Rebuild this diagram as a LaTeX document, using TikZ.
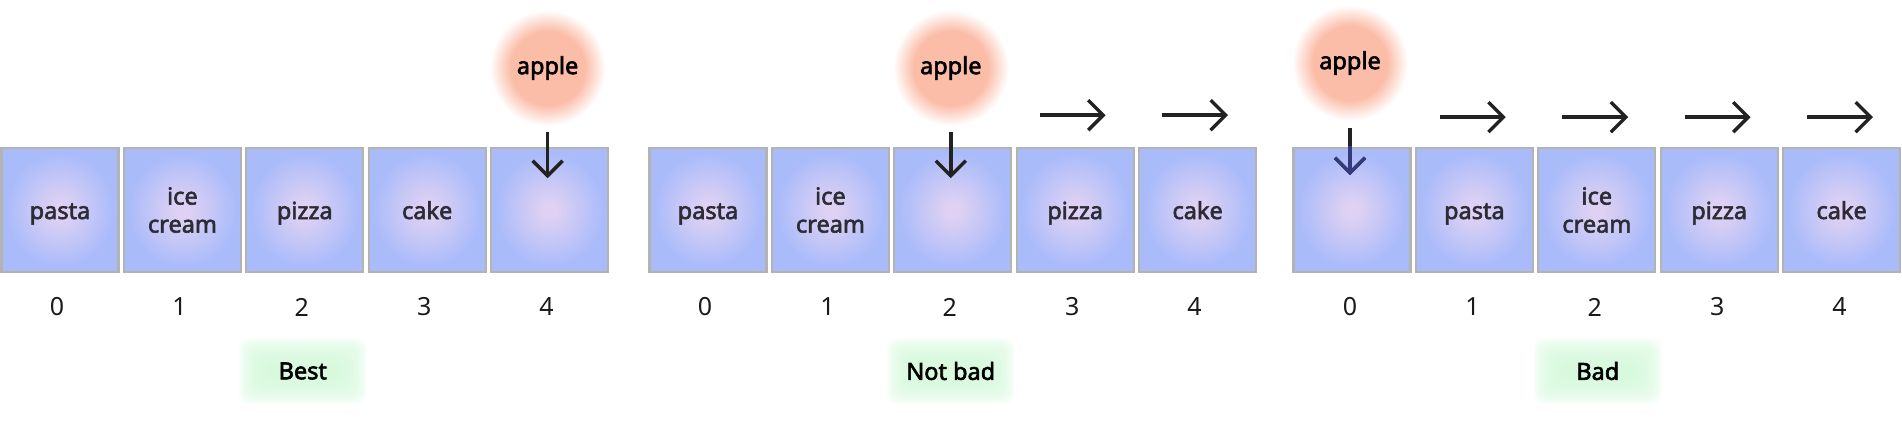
\documentclass[tikz,border=0pt]{standalone}
\usepackage{fontspec}
\usetikzlibrary{arrows.meta,backgrounds,calc}
\setmainfont{Noto Sans}
\newfontfamily\semifont{Noto Sans}[FakeBold=2.5]
\definecolor{lav}{HTML}{DED1F3}
\definecolor{peri}{HTML}{AABBFA}
\definecolor{bordergray}{HTML}{B3B3B3}
\definecolor{applec}{HTML}{FBBDA8}
\definecolor{greenc}{HTML}{D6F9DC}
\definecolor{txtdark}{HTML}{2C2C36}
\definecolor{numc}{HTML}{1A1A1A}
\definecolor{arrowc}{HTML}{222222}
\definecolor{navyc}{HTML}{343A7C}
\pgfdeclareradialshading{cellshade}{\pgfpoint{0bp}{0bp}}{color(0bp)=(lav); color(3bp)=(lav); color(23bp)=(peri); color(50bp)=(peri)}
\pgfdeclareradialshading{appleshade}{\pgfpoint{0bp}{0bp}}{color(0bp)=(applec); color(16bp)=(applec); color(25bp)=(white); color(50bp)=(white)}
\begin{document}
\begin{tikzpicture}[x=1pt,y=-1pt,
  cell/.style={shade, shading=cellshade, draw=bordergray, line width=2.2pt,
    minimum width=117pt, minimum height=124.5pt, inner sep=0pt, align=center,
    text=txtdark, font=\semifont\fontsize{23.5}{28}\selectfont},
  one/.style={text height=24pt, text depth=6pt},
  idx/.style={inner sep=0pt, text=numc, font=\fontsize{25}{29}\selectfont},
  applenode/.style={circle, minimum size=116pt, inner sep=0pt, shade, shading=appleshade,
    text=black, font=\semifont\fontsize{23.5}{28}\selectfont},
  arr/.style={draw=arrowc, line width=3.4pt, -{Straight Barb[length=15pt,width=30pt]}},
  verdict/.style={inner sep=0pt, text=black, font=\semifont\fontsize{23.5}{28}\selectfont},
  glow/.style={fill=greenc, fill opacity=0.17, rounded corners=10pt}]
\useasboundingbox (0,0) rectangle (1902,424);

% ---------- group 1 ----------
\node[cell,one] (g1b0) at (60,210) {pasta};
\node[cell] (g1b1) at (182.4,210) {ice\\cream};
\node[cell,one] (g1b2) at (304.8,210) {pizza};
\node[cell,one] (g1b3) at (427.2,210) {cake};
\node[cell] (g1b4) at (549.6,210) {};
\node[applenode] (g1apple) at (547.6,68) {apple};
\draw[arr] ([yshift=-6pt]g1apple.south) -- ([yshift=-31.5pt]g1apple.south |- g1b4.north);
\foreach \k/\x in {0/57,1/179.4,2/301.8,3/424.2,4/546.6}{\node[idx] (g1n\k) at (\x,307) {\k};}
\node[verdict] (v1) at (302.8,371) {Best};

% ---------- group 2 ----------
\node[cell,one] (g2b0) at (708,210) {pasta};
\node[cell] (g2b1) at (830.4,210) {ice\\cream};
\node[cell] (g2b2) at (952.8,210) {};
\node[cell,one] (g2b3) at (1075.2,210) {pizza};
\node[cell,one] (g2b4) at (1197.6,210) {cake};
\node[applenode] (g2apple) at (950.8,68) {apple};
\draw[arr] ([yshift=-6pt]g2apple.south) -- ([yshift=-31.5pt]g2apple.south |- g2b2.north);
\draw[arr] ([shift={(24pt,31.5pt)}]g2b3.north west) -- ([shift={(90pt,31.5pt)}]g2b3.north west);
\draw[arr] ([shift={(24pt,31.5pt)}]g2b4.north west) -- ([shift={(90pt,31.5pt)}]g2b4.north west);
\foreach \k/\x in {0/705,1/827.4,2/949.8,3/1072.2,4/1194.6}{\node[idx] (g2n\k) at (\x,307) {\k};}
\node[verdict] (v2) at (950.8,371) {Not bad};

% ---------- group 3 ----------
\node[cell] (g3b0) at (1352,210) {};
\node[cell,one] (g3b1) at (1474.4,210) {pasta};
\node[cell] (g3b2) at (1596.8,210) {ice\\cream};
\node[cell,one] (g3b3) at (1719.2,210) {pizza};
\node[cell,one] (g3b4) at (1841.6,210) {cake};
\node[applenode] (g3apple) at (1350,63) {apple};
\draw[arr] ([yshift=-7pt]g3apple.south) -- ([yshift=-28.5pt]g3apple.south |- g3b0.north);
\begin{scope}
  \clip (g3b0.north west) rectangle (g3b0.south east);
  \draw[arr, draw=navyc] ([yshift=-7pt]g3apple.south) -- ([yshift=-28.5pt]g3apple.south |- g3b0.north);
\end{scope}
\foreach \b in {1,2,3,4}{
  \draw[arr] ([shift={(25pt,29.5pt)}]g3b\b.north west) -- ([shift={(91pt,29.5pt)}]g3b\b.north west);
}
\foreach \k/\x in {0/1350,1/1472.4,2/1594.8,3/1717.2,4/1839.6}{\node[idx] (g3n\k) at (\x,307) {\k};}
\node[verdict] (v3) at (1597.8,371) {Bad};

% ---------- green glows ----------
\begin{scope}[on background layer]
  \foreach \v in {v1,v2,v3}{
    \foreach \k in {0,...,13}{
      \fill[glow] ($(\v)+(-64+2*\k,-33+2*\k)$) rectangle ($(\v)+(64-2*\k,33-2*\k)$);
    }
  }
\end{scope}
\end{tikzpicture}
\end{document}
